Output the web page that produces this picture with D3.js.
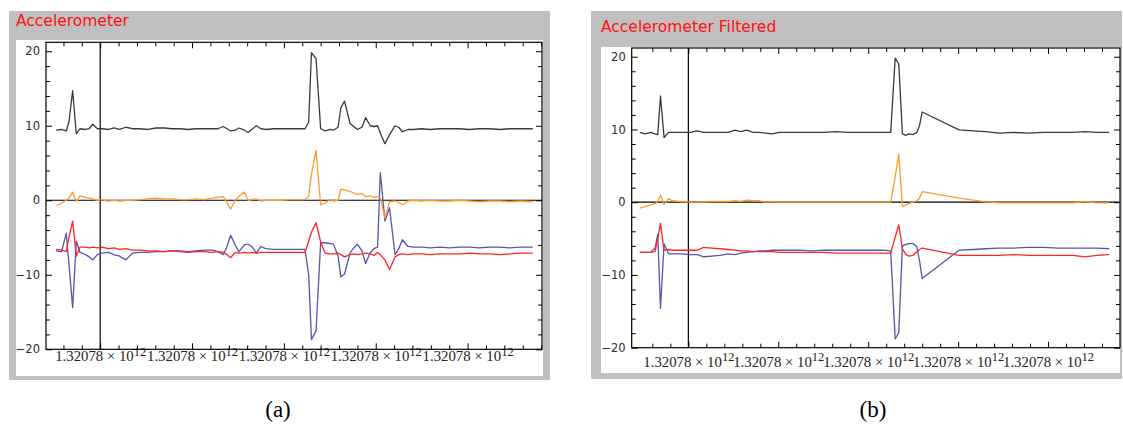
<!DOCTYPE html>
<html>
<head>
<meta charset="utf-8">
<script src="https://cdn.jsdelivr.net/npm/d3@7"></script>
<style>
body { margin: 0; background: #fff; }
svg { display: block; }
.title { font-family: "DejaVu Sans", sans-serif; font-size: 15.5px; fill: #ff1010; }
.caption { font-family: "Liberation Serif", serif; font-size: 23px; fill: #000; }
</style>
</head>
<body>
<svg width="1123" height="427"></svg>
<script>
// **** data (time in ms offset, values in m/s^2) ****

var timesA = [-48, -42, -37, -34, -30, -26, -22, -16, -12, -8, -3, 2, 9, 15, 21, 28, 35, 43, 52, 61,
    70, 78, 87, 96, 104, 113, 122, 128, 134, 138, 142, 147, 151, 157, 161, 165, 170, 175, 180, 189,
    198, 207, 215, 223, 227, 230, 235, 240, 245, 250, 254, 259, 262, 266, 272, 276, 280, 285, 289, 294,
    298, 302, 305, 310, 315, 321, 325, 329, 335, 341, 350, 359, 370, 380, 391, 402, 413, 424, 435, 446,
    457, 471];
var magA = [9.4, 9.5, 9.3, 10.5, 14.7, 8.9, 9.6, 9.5, 9.6, 10.2, 9.6, 9.6, 9.5, 9.7, 9.5, 9.8, 9.6, 9.6, 9.5, 9.7,
    9.7, 9.6, 9.6, 9.5, 9.6, 9.6, 9.6, 9.6, 9.9, 9.6, 9.3, 9.4, 9.7, 9.4, 9.1, 9.5, 10.0, 9.6, 9.5, 9.6,
    9.6, 9.6, 9.6, 9.6, 10.5, 19.8, 19.0, 9.6, 9.3, 9.5, 9.4, 9.8, 12.4, 13.3, 10.3, 9.9, 9.5, 9.8, 11.1, 10.0,
    9.9, 10.0, 9.0, 7.6, 8.8, 10.0, 9.8, 9.2, 9.5, 9.5, 9.6, 9.5, 9.6, 9.6, 9.6, 9.5, 9.6, 9.6, 9.5, 9.6,
    9.6, 9.6];
var accXA = [-0.7, -0.4, 0.0, 0.3, 1.1, -0.2, 0.6, 0.4, 0.3, 0.2, 0.0, 0.1, -0.1, 0.0, -0.1, 0.0, 0.0, 0.1, 0.2, 0.3,
    0.2, 0.2, 0.1, 0.1, 0.2, 0.1, 0.3, 0.4, 0.5, -0.3, -1.2, 0.0, 0.5, 1.1, 0.0, 0.1, 0.2, -0.1, 0.0, 0.0,
    0.0, 0.1, 0.1, 0.1, 0.5, 3.5, 6.7, -0.6, -0.4, 0.1, -0.1, 0.0, 1.5, 1.4, 1.2, 1.0, 0.8, 0.9, 0.5, 0.6,
    0.4, 0.5, 0.3, -2.4, -0.2, -0.1, -0.3, -0.6, -0.1, 0.0, -0.1, 0.0, -0.1, -0.1, 0.0, -0.1, -0.2, -0.1, -0.1, -0.2,
    -0.1, -0.2];
var accYA = [-6.6, -6.7, -6.9, -5.0, -2.8, -7.5, -6.3, -6.3, -6.4, -6.3, -6.4, -6.3, -6.5, -6.4, -6.6, -6.5, -6.7, -6.7, -6.8, -6.8,
    -6.9, -6.8, -6.9, -7.0, -6.9, -6.9, -7.0, -6.9, -7.0, -7.3, -7.7, -7.0, -7.1, -7.0, -7.1, -7.0, -7.1, -7.0, -7.0, -7.0,
    -7.0, -7.0, -7.0, -7.0, -5.5, -4.3, -3.0, -5.6, -7.1, -7.2, -7.2, -7.1, -7.3, -7.6, -7.3, -7.2, -7.3, -7.2, -7.1, -7.2,
    -7.4, -7.0, -7.3, -8.0, -9.3, -7.6, -7.3, -7.2, -7.3, -7.2, -7.2, -7.3, -7.2, -7.2, -7.2, -7.1, -7.2, -7.2, -7.3, -7.2,
    -7.1, -7.1];
var accZA = [-6.8, -6.9, -4.4, -8.5, -14.4, -5.5, -7.0, -7.3, -7.6, -8.0, -7.3, -7.1, -7.0, -7.3, -7.5, -8.0, -7.1, -7.0, -7.0, -6.9,
    -6.9, -6.8, -6.8, -6.9, -6.8, -6.7, -6.7, -6.9, -7.3, -6.2, -4.7, -6.0, -6.9, -6.0, -5.9, -6.2, -7.1, -6.2, -6.5, -6.6,
    -6.6, -6.6, -6.6, -6.6, -10.0, -18.7, -17.5, -5.7, -5.7, -5.8, -5.9, -7.5, -10.3, -9.9, -7.1, -6.4, -5.9, -6.8, -8.5, -7.0,
    -6.5, -6.3, 3.7, -2.8, -1.0, -7.3, -6.5, -5.3, -6.2, -6.3, -6.3, -6.4, -6.3, -6.4, -6.3, -6.3, -6.4, -6.3, -6.3, -6.4,
    -6.3, -6.3];

var timesB = [-54, -48, -42, -37, -34, -31, -27, -22, -18, -9, 2, 10, 17, 26, 35, 44, 52, 58, 65, 72,
    79, 86, 93, 101, 113, 124, 137, 150, 164, 177, 190, 203, 216, 225, 230, 234, 238, 242, 245, 250,
    254, 257, 260, 301, 317, 331, 345, 362, 378, 395, 412, 428, 441, 454, 468];
var magB = [9.6, 9.4, 9.6, 9.4, 9.3, 14.6, 8.9, 9.6, 9.6, 9.6, 9.6, 9.8, 9.6, 9.6, 9.6, 9.6, 9.9, 9.7, 9.9, 9.6,
    9.6, 9.5, 9.4, 9.6, 9.6, 9.6, 9.6, 9.6, 9.7, 9.6, 9.6, 9.6, 9.6, 9.6, 19.8, 19.0, 9.4, 9.2, 9.4, 9.3,
    9.6, 10.5, 12.4, 9.95, 9.8, 9.7, 9.5, 9.6, 9.5, 9.6, 9.6, 9.6, 9.7, 9.6, 9.6];
var accXB = [-0.8, -0.6, -0.4, -0.2, 0.1, 1.0, -0.3, 0.5, 0.2, 0.1, 0.0, 0.0, 0.0, 0.1, 0.1, 0.1, 0.2, 0.1, 0.3, 0.2,
    0.2, 0.0, 0.1, 0.0, 0.0, 0.0, 0.0, 0.0, 0.0, 0.0, 0.0, 0.0, 0.0, 0.0, 3.5, 6.6, -0.6, -0.4, -0.2, 0.0,
    0.2, 0.5, 1.45, 0.55, 0.3, 0.05, -0.1, -0.1, -0.1, -0.1, -0.1, -0.1, 0.1, -0.1, -0.1];
var accYB = [-6.9, -6.9, -6.9, -6.8, -5.0, -2.9, -6.6, -6.5, -6.6, -6.6, -6.6, -6.6, -6.2, -6.3, -6.4, -6.5, -6.6, -6.7, -6.7, -6.8,
    -6.8, -6.8, -6.8, -6.9, -6.9, -6.9, -6.9, -6.9, -7.0, -7.0, -7.0, -7.0, -7.0, -7.0, -4.8, -3.1, -6.4, -7.2, -7.4, -7.3,
    -6.8, -6.5, -6.3, -7.3, -7.3, -7.3, -7.3, -7.2, -7.3, -7.3, -7.3, -7.3, -7.5, -7.3, -7.2];
var accZB = [-6.9, -6.9, -6.9, -6.3, -4.4, -14.6, -5.7, -7.1, -7.1, -7.1, -7.2, -7.2, -7.5, -7.4, -7.3, -7.1, -7.2, -7.0, -6.9, -6.8,
    -6.7, -6.7, -6.6, -6.6, -6.6, -6.6, -6.7, -6.6, -6.6, -6.6, -6.6, -6.6, -6.6, -6.7, -18.8, -17.9, -6.0, -5.8, -5.7, -5.7,
    -6.1, -8.0, -10.5, -6.6, -6.5, -6.4, -6.3, -6.3, -6.2, -6.2, -6.3, -6.3, -6.3, -6.3, -6.4];

var yTickValues = [-20, -10, 0, 10, 20];
var xTickValues = [0, 100, 200, 300, 400];
var xTickMantissa = "1.32078 \u00d7 10";
var xTickExponent = "12";

// **** layout ****

var panels = [
    { title: "Accelerometer", caption: "(a)", capX: 278,
      box: [9, 11, 550, 380], inner: [16, 40, 543, 376], frame: [46, 42.3, 542, 349.3],
      xDomain: [-59, 481], titleY: 26, xLabelY: 361,
      times: timesA, series: [accZA, accYA, accXA, magA] },
    { title: "Accelerometer Filtered", caption: "(b)", capX: 873,
      box: [591, 11, 1122, 379], inner: [601, 47, 1120, 373], frame: [631.7, 48, 1120, 347.7],
      xDomain: [-63, 480], titleY: 32, xLabelY: 367,
      times: timesB, series: [accZB, accYB, accXB, magB] }
];
var colors = ["#5656ac", "#ff2424", "#ff9a2a", "#3a3a3a"];

var svg = d3.select("svg");

let drawPanel = (p) => {
    var f = p.frame;
    var x = d3.scaleLinear().domain(p.xDomain).range([f[0], f[2]]);
    var y = d3.scaleLinear().domain([-20, 21.2]).range([f[3], f[1]]);

    svg.append("rect")
        .attr("x", p.box[0]).attr("y", p.box[1])
        .attr("width", p.box[2] - p.box[0]).attr("height", p.box[3] - p.box[1])
        .attr("fill", "#c0c0c0");
    svg.append("rect")
        .attr("x", p.inner[0]).attr("y", p.inner[1])
        .attr("width", p.inner[2] - p.inner[0]).attr("height", p.inner[3] - p.inner[1])
        .attr("fill", "#fff");
    svg.append("text").attr("class", "title")
        .attr("x", p.inner[0]).attr("y", p.titleY)
        .text(p.title);

    // minor + major ticks on all four sides, pointing inward
    var xMinor = d3.range(-40, 481, 20).filter(v => v > p.xDomain[0] && v < p.xDomain[1] && v % 100 !== 0);
    var yMinor = d3.range(-18, 21, 2).filter(v => v % 10 !== 0);
    var tickAxis = (axisFn, scale, values, size, tx, ty) => {
        var g = svg.append("g").attr("transform", `translate(${tx},${ty})`)
            .call(axisFn(scale).tickValues(values).tickSize(size).tickFormat(""));
        g.select(".domain").remove();
        g.selectAll("line").attr("stroke", "#000");
        return g;
    };
    tickAxis(d3.axisLeft, y, yMinor, -4, f[0], 0);
    tickAxis(d3.axisRight, y, yMinor, -4, f[2], 0);
    tickAxis(d3.axisRight, y, yTickValues, -6, f[2], 0);
    tickAxis(d3.axisTop, x, xMinor, -4, 0, f[1]);
    tickAxis(d3.axisTop, x, xTickValues, -6, 0, f[1]);
    tickAxis(d3.axisBottom, x, xMinor, -4, 0, f[3]);

    var left = svg.append("g").attr("transform", `translate(${f[0]},0)`)
        .call(d3.axisLeft(y).tickValues(yTickValues).tickSize(-6).tickPadding(6)
            .tickFormat(d => d < 0 ? "\u2212" + Math.abs(d) : d));
    left.select(".domain").remove();
    left.selectAll("line").attr("stroke", "#000");
    left.selectAll("text").attr("font-family", "DejaVu Sans").attr("font-size", 11.5).attr("fill", "#2a2a3a");

    var bottom = svg.append("g").attr("transform", `translate(0,${f[3]})`)
        .call(d3.axisBottom(x).tickValues(xTickValues).tickSize(-6).tickFormat(""));
    bottom.select(".domain").remove();
    bottom.selectAll("line").attr("stroke", "#000");
    bottom.selectAll(".tick text")
        .attr("y", p.xLabelY - f[3]).attr("dy", null)
        .attr("font-family", "Liberation Serif").attr("font-size", 14.8).attr("fill", "#222")
        .each(function () {
            var t = d3.select(this);
            t.append("tspan").text(xTickMantissa);
            t.append("tspan").attr("dy", -5.5).attr("font-size", 12.5).text(xTickExponent);
        });

    // frame
    svg.append("rect")
        .attr("x", f[0]).attr("y", f[1])
        .attr("width", f[2] - f[0]).attr("height", f[3] - f[1])
        .attr("fill", "none").attr("stroke", "#000").attr("stroke-width", 1.2);

    // axes through origin
    svg.append("line")
        .attr("x1", f[0]).attr("x2", f[2]).attr("y1", y(0)).attr("y2", y(0))
        .attr("stroke", "#000").attr("stroke-width", 1.2);
    svg.append("line")
        .attr("x1", x(0)).attr("x2", x(0)).attr("y1", f[1]).attr("y2", f[3])
        .attr("stroke", "#000").attr("stroke-width", 1.2);

    var line = d3.line().x(d => x(d[0])).y(d => y(d[1]));
    p.series.forEach((vals, i) => {
        svg.append("path")
            .datum(p.times.map((t, j) => [t, vals[j]]))
            .attr("d", line)
            .attr("fill", "none")
            .attr("stroke", colors[i])
            .attr("stroke-width", 1.3)
            .attr("stroke-linejoin", "round");
    });

    svg.append("text").attr("class", "caption")
        .attr("x", p.capX).attr("y", 417)
        .attr("text-anchor", "middle")
        .text(p.caption);
};

panels.forEach(drawPanel);
</script>
</body>
</html>
